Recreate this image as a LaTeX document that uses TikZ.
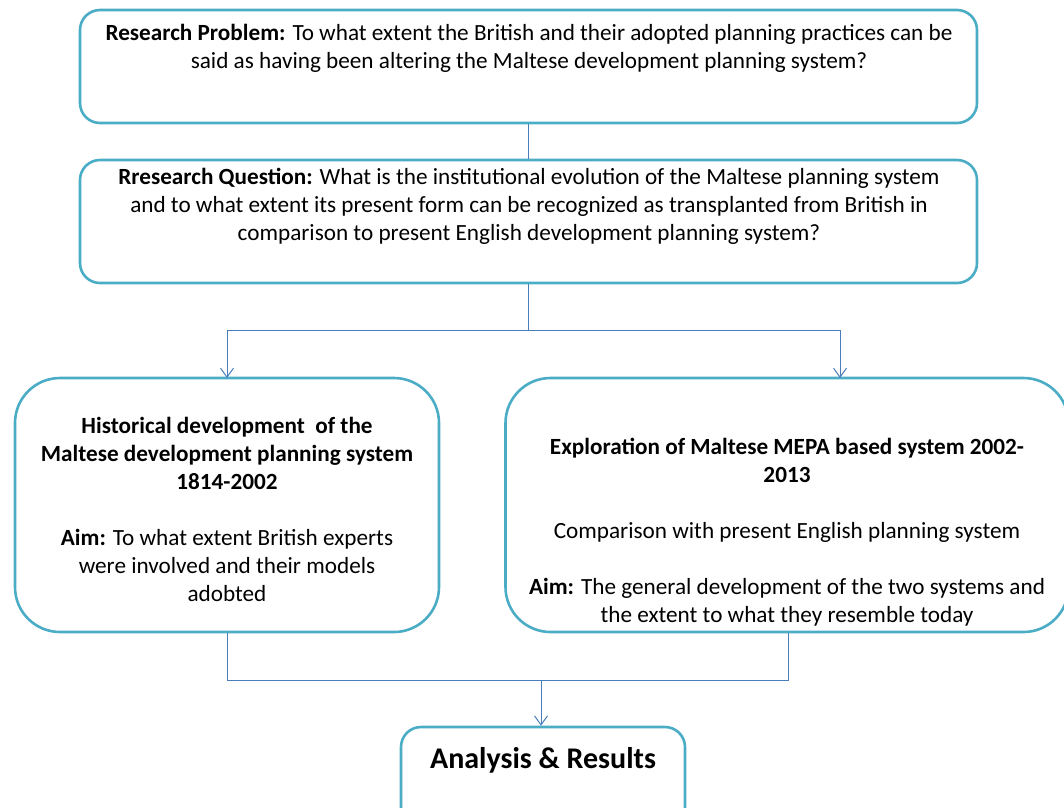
\documentclass[tikz,border=0pt]{standalone}
\usepackage{fontspec}
\setmainfont{Carlito}
\usetikzlibrary{arrows.meta}
\definecolor{boxline}{HTML}{4BACC6}
\definecolor{linkblue}{HTML}{4A7EBB}
\begin{document}
\begin{tikzpicture}[x=1pt,y=-1pt,
  box/.style={draw=boxline, line width=2.6pt, rounded corners=#1, inner sep=0pt, fill=white},
  txt/.style={align=center, font=\fontsize{23.2}{28}\selectfont, inner sep=0pt},
  link/.style={draw=linkblue, line width=1pt},
  arr/.style={link, -{Straight Barb[length=9pt,width=13pt]}}]
\useasboundingbox (0,0) rectangle (1064,807);
\clip (0,0) rectangle (1064,807);

% boxes
\node[box=20pt, minimum width=897pt, minimum height=113pt] (prob) at (528.5,66.5) {};
\node[box=20pt, minimum width=897pt, minimum height=123pt] (quest) at (528.5,221.5) {};
\node[box=45pt, minimum width=424pt, minimum height=254pt] (hist) at (227,505) {};
\node[box=45pt, minimum width=563pt, minimum height=254pt] (expl) at (787,505) {};
\node[box=20pt, minimum width=284pt, minimum height=113pt] (res) at (543,783.5) {};

% texts
\node[txt] (probT) at (529,48) {\textbf{Research Problem:} To what extent the British and their adopted planning practices can be\\said as having been altering the Maltese development planning system?};
\node[txt] (questT) at (529,206) {\textbf{Rresearch Question:} What is the institutional evolution of the Maltese planning system\\and to what extent its present form can be recognized as transplanted from British in\\comparison to present English development planning system?};
\node[txt] (histT) at (227,509.5) {\textbf{Historical development \ of the}\\\textbf{Maltese development planning system}\\\textbf{1814-2002}\\[28pt]\textbf{Aim:} To what extent British experts\\were involved and their models\\adobted};
\node[txt] (explT) at (787,532) {\textbf{Exploration of Maltese MEPA based system 2002-}\\\textbf{2013}\\[28pt]Comparison with present English planning system\\[28pt]\textbf{Aim:} The general development of the two systems and\\the extent to what they resemble today};
\node[txt, font=\fontsize{30}{34}\selectfont\bfseries] (resT) at (543,760) {Analysis \& Results};

% connectors
\coordinate (split) at (528,330);
\coordinate (join) at (541,680);
\draw[link] (prob.south -| 528,0) -- (quest.north -| 528,0);
\draw[link] (quest.south -| 528,0) -- (split);
\draw[arr] (split) -| (227,378);
\draw[arr] (split) -| (840,378);
\draw[link] (hist.south) |- (join);
\draw[link] (expl.south -| 788,0) |- (join);
\draw[arr] (join) -- (res.north -| join);
\end{tikzpicture}
\end{document}
